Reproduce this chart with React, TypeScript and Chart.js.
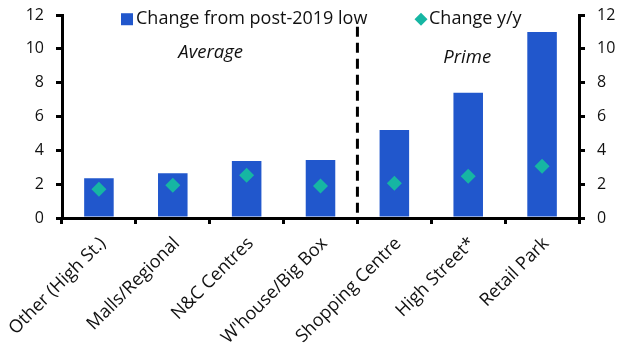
import React, { useEffect, useRef } from "react";
import { Chart, registerables } from "chart.js";

Chart.register(...registerables);

const categories = [
  "Other (High St.)",
  "Malls/Regional",
  "N&C Centres",
  "W'house/Big Box",
  "Shopping Centre",
  "High Street*",
  "Retail Park",
];
const changeFromLow = [2.35, 2.65, 3.37, 3.43, 5.2, 7.4, 11.0];
const changeYoY = [1.7, 1.93, 2.52, 1.89, 2.05, 2.47, 3.06];
const yTicks = [0, 2, 4, 6, 8, 10, 12];
const seriesNames = ["Change from post-2019 low", "Change y/y"];
const groupLabels = ["Average", "Prime"];

const BAR = "#2157cc";
const TEAL = "#16b6a3";
const FONT = "'Open Sans', sans-serif";

const overlay = {
  id: "overlay",
  afterDatasetsDraw(chart: any) {
    const { ctx, chartArea, scales } = chart;
    const x = scales.x;
    const y = scales.y;
    const xDiv = (x.getPixelForValue(3) + x.getPixelForValue(4)) / 2;
    ctx.save();
    ctx.strokeStyle = "#000";
    ctx.lineWidth = 3;
    ctx.setLineDash([10, 6]);
    ctx.beginPath();
    ctx.moveTo(xDiv, y.getPixelForValue(11.3));
    ctx.lineTo(xDiv, chartArea.bottom);
    ctx.stroke();
    ctx.setLineDash([]);

    ctx.fillStyle = "#111";
    ctx.font = `italic 18.5px ${FONT}`;
    ctx.textAlign = "center";
    ctx.textBaseline = "middle";
    ctx.fillText(groupLabels[0], (x.getPixelForValue(1) + x.getPixelForValue(2)) / 2 + 1, y.getPixelForValue(9.75));
    ctx.fillText(groupLabels[1], x.getPixelForValue(5) - 1, y.getPixelForValue(9.5));

    ctx.font = `18px ${FONT}`;
    ctx.textAlign = "left";
    const ly = y.getPixelForValue(11.75);
    ctx.fillStyle = BAR;
    ctx.fillRect(121, ly - 6, 12, 12);
    ctx.fillStyle = "#111";
    ctx.fillText(seriesNames[0], 136, ly);
    ctx.fillStyle = TEAL;
    ctx.beginPath();
    ctx.moveTo(421, ly - 6.5);
    ctx.lineTo(427.5, ly);
    ctx.lineTo(421, ly + 6.5);
    ctx.lineTo(414.5, ly);
    ctx.closePath();
    ctx.fill();
    ctx.fillStyle = "#111";
    ctx.fillText(seriesNames[1], 429, ly);
    ctx.restore();
  },
};

export default function App() {
  const ref = useRef<HTMLCanvasElement>(null);
  useEffect(() => {
    document.body.style.margin = "0";
    const yAxisCommon = {
      min: 0,
      max: 12,
      afterBuildTicks: (s: any) => {
        s.ticks = yTicks.map((v) => ({ value: v }));
      },
      border: { display: true, color: "#000", width: 3 },
      grid: { drawOnChartArea: false, drawTicks: true, tickLength: 6, color: "#000", lineWidth: 3 },
      ticks: { color: "#111", font: { size: 16, family: FONT }, padding: 12 },
    };
    const chart = new Chart(ref.current!, {
      type: "bar",
      data: {
        labels: categories,
        datasets: [
          {
            type: "line",
            label: seriesNames[1],
            data: changeYoY,
            showLine: false,
            pointStyle: "rectRot",
            pointRadius: 7.5,
            backgroundColor: TEAL,
            borderColor: TEAL,
            borderWidth: 0,
            yAxisID: "y",
          } as any,
          {
            type: "bar",
            label: seriesNames[0],
            data: changeFromLow,
            backgroundColor: BAR,
            categoryPercentage: 1,
            barPercentage: 0.4,
            yAxisID: "y",
          },
        ],
      },
      options: {
        responsive: false,
        animation: false,
        layout: { padding: { top: 15, left: 0, right: 0, bottom: 0 } },
        plugins: { legend: { display: false }, tooltip: { enabled: false } },
        scales: {
          x: {
            offset: true,
            border: { display: true, color: "#000", width: 3 },
            grid: { offset: true, drawOnChartArea: false, drawTicks: true, tickLength: 6, color: "#000", lineWidth: 3 },
            ticks: {
              color: "#111",
              font: { size: 18, family: FONT },
              minRotation: 45,
              maxRotation: 45,
              padding: 9,
              labelOffset: 4,
            },
            afterFit: (s: any) => {
              s.height = 146;
              s.paddingLeft = 0;
              s.paddingRight = 0;
            },
          },
          y: {
            ...yAxisCommon,
            position: "left",
            afterFit: (s: any) => {
              s.width = 62;
              s.paddingTop = 0;
              s.paddingBottom = 0;
            },
          } as any,
          y2: {
            ...yAxisCommon,
            position: "right",
            afterFit: (s: any) => {
              s.width = 50;
              s.paddingTop = 0;
              s.paddingBottom = 0;
            },
          } as any,
        },
      },
      plugins: [overlay],
    });
    return () => chart.destroy();
  }, []);
  return (
    <div style={{ width: 629, height: 364 }}>
      <canvas ref={ref} width={629} height={364} />
    </div>
  );
}
